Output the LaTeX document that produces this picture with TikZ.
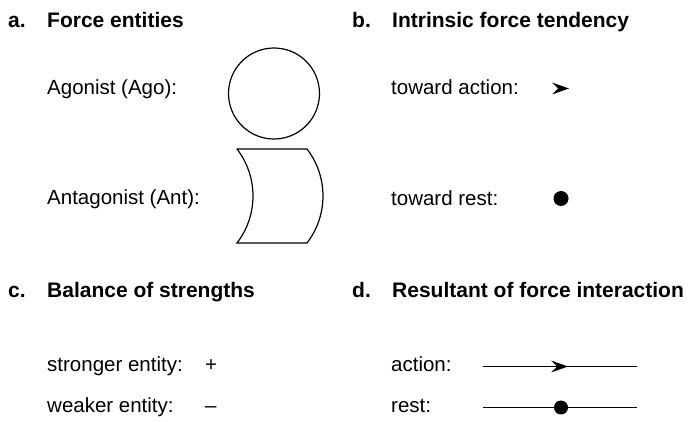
\documentclass[tikz,border=0pt]{standalone}
\usepackage{fontspec}
\setmainfont{Liberation Sans}
\begin{document}
\begin{tikzpicture}[x=1pt,y=1pt,
  lbl/.style={anchor=base west, inner sep=0pt, font=\fontsize{20.5}{24}\selectfont},
  hdr/.style={anchor=base west, inner sep=0pt, font=\fontsize{21}{24}\selectfont\bfseries},
  ent/.style={draw=black, line width=1.2pt},
  dotmark/.style={circle, fill=black, minimum size=15pt, inner sep=0pt},
  conn/.style={draw=black, line width=1.1pt},
  arrowhead/.pic={\fill[black] (-17,6) -- (0,0) -- (-17,-6) -- (-11,0) -- cycle;}
]
\useasboundingbox (0,0) rectangle (689,-422);
% headers
\node[hdr] (ha) at (8,-28) {a.};
\node[hdr] (hat) at (47,-28) {Force entities};
\node[hdr] (hb) at (352,-28) {b.};
\node[hdr] (hbt) at (392,-28) {Intrinsic force tendency};
\node[hdr] (hc) at (8,-298) {c.};
\node[hdr] (hct) at (47,-298) {Balance of strengths};
\node[hdr] (hd) at (352,-298) {d.};
\node[hdr] (hdt) at (392,-298) {Resultant of force interaction};
% a. force entities
\node[lbl] (ago) at (47,-95) {Agonist (Ago):};
\node[circle, ent, minimum size=91pt, inner sep=0pt] (agoshape) at (274,-93.5) {};
\node[lbl] (ant) at (47,-205) {Antagonist (Ant):};
\draw[ent] (237,-149) -- (307,-149) arc[start angle=37.6, end angle=-37.6, radius=77]
  -- (237,-243) arc[start angle=-37.6, end angle=37.6, radius=77] -- cycle;
% b. intrinsic tendency
\node[lbl] (tact) at (391,-95) {toward action:};
\pic at (569,-88.5) {arrowhead};
\node[lbl] (trest) at (391,-206) {toward rest:};
\node[dotmark] (restdot) at (561,-198.5) {};
% c. balance
\node[lbl] (str) at (47,-372) {stronger entity:};
\node[lbl] (strs) at (205,-372) {+};
\node[lbl] (weak) at (47,-413) {weaker entity:};
\node[lbl] (weaks) at (205,-413) {–};
% d. resultant
\node[lbl] (act) at (391,-372) {action:};
\coordinate (a1) at (483,-366.5);
\coordinate (a2) at (637,-366.5);
\draw[conn] (a1) -- (a2);
\pic at (568,-366.5) {arrowhead};
\node[lbl] (rst) at (391,-413) {rest:};
\coordinate (r1) at (483,-407.5);
\coordinate (r2) at (637,-407.5);
\draw[conn] (r1) -- (r2);
\node[dotmark, minimum size=14pt] (rdot) at (561,-407.5) {};
\end{tikzpicture}
\end{document}
